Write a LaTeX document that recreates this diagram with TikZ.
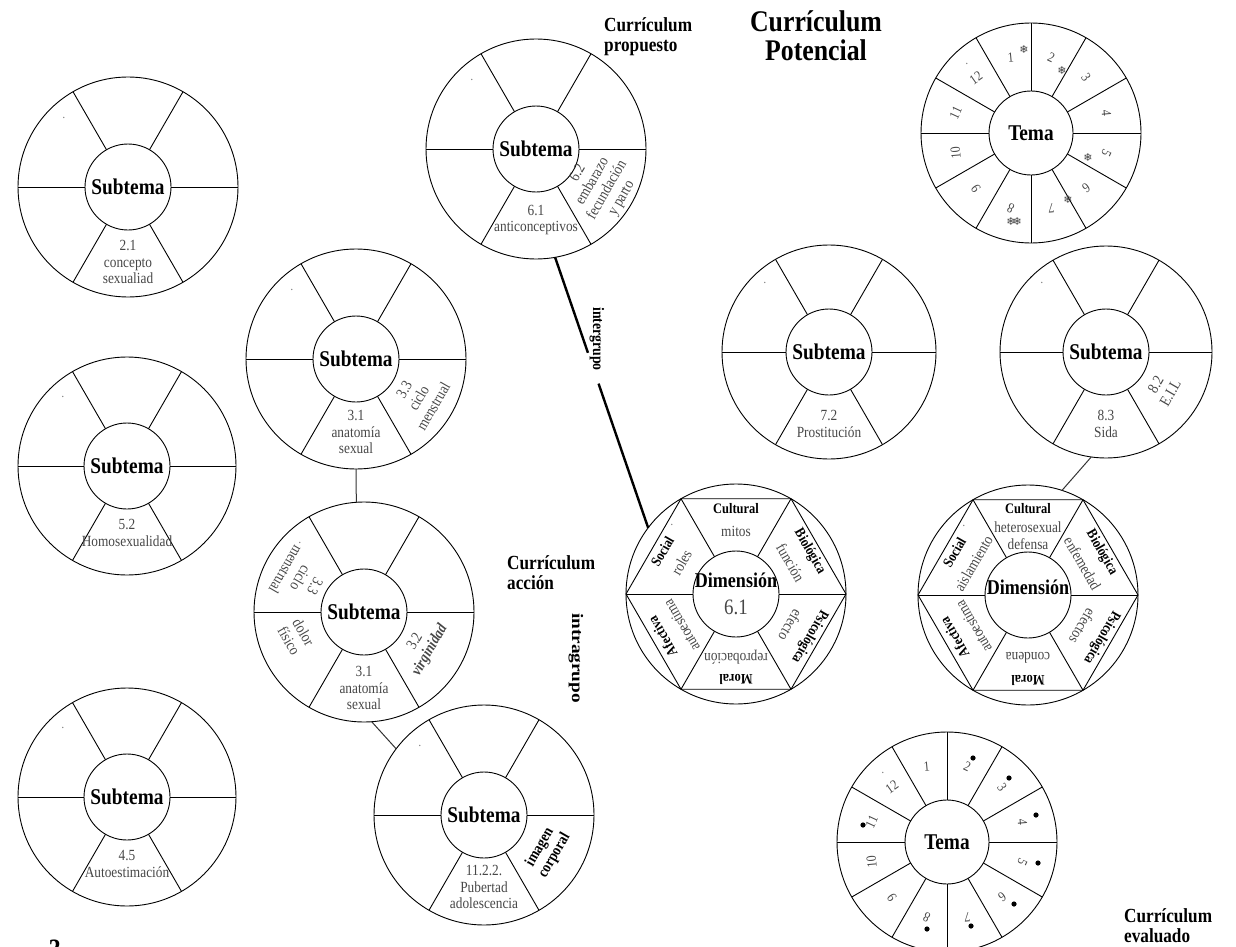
\documentclass[tikz,border=0pt]{standalone}
\usepackage{fontspec}
\setmainfont[FakeStretch=0.86]{Liberation Serif}
\newfontfamily\symfont{DejaVu Sans}
\usetikzlibrary{calc}
\tikzset{
  rim/.style={draw, circle, line width=0.9pt, inner sep=0pt, outer sep=0pt},
  hub/.style={draw, circle, line width=0.9pt, inner sep=0pt, outer sep=0pt, minimum size=86pt, font=\bfseries\fontsize{22.5}{24}\selectfont},
  spoke/.style={line width=0.9pt},
  lbl/.style={font=\fontsize{15.5}{16.8}\selectfont, text=black!72, align=center, inner sep=0pt},
  blbl/.style={font=\bfseries\fontsize{15.5}{16.8}\selectfont, text=black, align=center, inner sep=0pt},
  hexb/.style={font=\bfseries\fontsize{14.5}{16}\selectfont, inner sep=0pt},
  num/.style={font=\fontsize{14}{15}\selectfont, text=black!72, inner sep=0pt},
  curr/.style={font=\bfseries\fontsize{20}{20}\selectfont, align=left, inner sep=0pt},
  grp/.style={font=\bfseries\fontsize{16}{16}\selectfont, inner sep=0pt},
  speck/.style={font=\fontsize{12}{12}\selectfont, inner sep=0pt, text=black!60},
  snow/.style={font=\symfont\fontsize{11}{11}\selectfont, inner sep=0pt, text=black!75},
  link/.style={line width=1pt, draw=black!80},
  biglink/.style={line width=2.4pt},
}
\newcommand\subwheel[4]{%
  \coordinate (#1c) at (#2,-#3);
  \node[rim, minimum size=#4pt] (#1) at (#1c) {};
  \node[hub] (#1h) at (#1c) {Subtema};
  \foreach \ang in {0,60,...,300} {\draw[spoke] (#1h.\ang) -- (#1.\ang);}
  \node[speck] at ($(#1c)+(-64,69)$) {.};
}
\newcommand\hexwheel[3]{%
  \coordinate (#1c) at (#2,-#3);
  \node[rim, minimum size=220pt] (#1) at (#1c) {};
  \node[hub] (#1h) at (#1c) {};
  \draw[spoke] (#1.0) -- (#1.60) -- (#1.120) -- (#1.180) -- (#1.240) -- (#1.300) -- cycle;
  \foreach \ang in {0,60,...,300} {\draw[spoke] (#1h.\ang) -- (#1.\ang);}
  \node[speck] at ($(#1c)+(-64,69)$) {.};
}
\newcommand\hexlab[5]{%
  \node[hexb, rotate=#5] at ($(#1)+(#2:85)$) {#3};
  \node[lbl, rotate=#5] at ($(#1)+(#2:63)$) {#4};
}
\newcommand\temawheel[3]{%
  \coordinate (#1c) at (#2,-#3);
  \node[rim, minimum size=220pt] (#1) at (#1c) {};
  \node[hub, minimum size=84pt] (#1h) at (#1c) {Tema};
  \foreach \ang in {0,30,...,330} {\draw[spoke] (#1h.\ang) -- (#1.\ang);}
  \foreach \k in {1,...,12} {
    \pgfmathsetmacro\tht{105-30*(\k-1)}
    \pgfmathsetmacro\rtt{\tht-100}
    \node[num, rotate=\rtt] at ($(#1c)+(\tht:78)$) {\k};
  }
  \node[speck] at ($(#1c)+(-64,69)$) {.};
}
\begin{document}
\begin{tikzpicture}[x=1pt,y=1pt]
\useasboundingbox (0,0) rectangle (1236,-947);

% ---- Subtema wheels
\subwheel{W1}{128}{187}{220}
\node[lbl] at ($(W1c)+(270:75)$) {2.1\\concepto\\sexualiad};

\subwheel{W2}{536}{149}{220}
\node[lbl] at ($(W2c)+(270:71)$) {6.1\\anticonceptivos};
\node[lbl, rotate=60] at ($(W2c)+(-30:74)$) {6.2\\embarazo\\fecundación\\y parto};

\subwheel{W3}{356}{359}{220}
\node[lbl] at ($(W3c)+(270:73)$) {3.1\\anatomía\\sexual};
\node[lbl, rotate=60] at ($(W3c)+(-32:74)$) {3.3\\ciclo\\menstrual};

\subwheel{W4}{364}{612}{220}
\node[lbl] at ($(W4c)+(270:76)$) {3.1\\anatomía\\sexual};
\node[lbl, rotate=60] at ($(W4c)+(-30:68)$) {3.2\\\textbf{\textit{virginidad}}};
\node[lbl, rotate=-120] at ($(W4c)+(152:72)$) {3.3\\ciclo\\menstrual};
\node[lbl, rotate=-60] at ($(W4c)+(200:72)$) {dolor\\físico};

\subwheel{W5}{484}{815}{220}
\node[lbl] at ($(W5c)+(270:72)$) {11.2.2.\\Pubertad\\adolescencia};
\node[blbl, rotate=60] at ($(W5c)+(-30:73)$) {imagen\\corporal};

\subwheel{W6}{127}{466}{218}
\node[lbl] at ($(W6c)+(270:67)$) {5.2\\Homosexualidad};

\subwheel{W7}{127}{797}{218}
\node[lbl] at ($(W7c)+(270:67)$) {4.5\\Autoestimación};

\subwheel{W8}{829}{352}{214}
\node[lbl] at ($(W8c)+(270:72)$) {7.2\\Prostitución};

\subwheel{W9}{1106}{352}{212}
\node[lbl] at ($(W9c)+(270:72)$) {8.3\\Sida};
\node[lbl, rotate=60] at ($(W9c)+(-33:68)$) {8.2\\E.I.L};

% ---- Dimension hexagons
\hexwheel{H1}{736}{594}
\node[font=\bfseries\fontsize{21}{22}\selectfont, inner sep=0pt] at ($(H1c)+(0,14)$) {Dimensión};
\node[font=\fontsize{22}{22}\selectfont, text=black!72, inner sep=0pt] at ($(H1c)+(0,-13)$) {6.1};
\hexlab{H1c}{90}{Cultural}{mitos}{0}
\hexlab{H1c}{30}{Biológica}{función}{-60}
\hexlab{H1c}{-30}{Psicológica}{efecto}{-120}
\hexlab{H1c}{-90}{Moral}{reprobación}{180}
\hexlab{H1c}{-150}{Afectiva}{autoestima}{120}
\hexlab{H1c}{150}{Social}{roles}{60}

\hexwheel{H2}{1028}{595}
\node[font=\bfseries\fontsize{21}{22}\selectfont, inner sep=0pt] at ($(H2c)+(0,8)$) {Dimensión};
\node[hexb] at ($(H2c)+(90:86)$) {Cultural};
\node[lbl] at ($(H2c)+(90:59)$) {heterosexual\\defensa};
\hexlab{H2c}{30}{Biológica}{enfemedad}{-60}
\hexlab{H2c}{-30}{Psicológica}{efectos}{-120}
\hexlab{H2c}{-90}{Moral}{condena}{180}
\hexlab{H2c}{-150}{Afectiva}{autoestima}{120}
\hexlab{H2c}{150}{Social}{aislamiento}{60}

% ---- Tema wheels
\temawheel{T1}{1031}{133}
\node[snow] at (1024,-49) {❄};
\node[snow] at (1062,-70) {❄};
\node[snow] at (1088,-157) {❄};
\node[snow] at (1068,-199) {❄};
\node[snow, font=\symfont\bfseries\fontsize{11}{11}\selectfont] at (1014,-221) {❄\kern-3pt❄};

\temawheel{B1}{947}{842}
\foreach \p in {(973,-758),(1009,-778),(1036,-815),(1038,-863),(1014,-904),(971,-926),(927,-929),(863,-825)}
  {\fill \p circle (2.6);}

% ---- connectors
\draw[link] (W3.south) -- (W4.94);
\draw[link] (W4.-86) -- (W5.143);
\draw[biglink] (W2.-80) -- ($(W2.-80)!0.353!(H1.143)$);
\draw[biglink] ($(W2.-80)!0.467!(H1.143)$) -- (H1.143);
\draw[link] (W9.-98) -- (H2.72);

% ---- labels
\node[grp, rotate=-90] (ig) at (597,-339) {intergrupo};
\node[grp, rotate=-90] (ia) at (576,-658) {\scalebox{1.4}[1]{intragrupo}};
\node[curr, anchor=west] at (604,-37) {Currículum\\propuesto};
\node[font=\bfseries\fontsize{30}{29}\selectfont, align=center, inner sep=0pt] at (816,-36) {Currículum\\Potencial};
\node[curr, anchor=west] at (507,-573) {Currículum\\acción};
\node[curr, anchor=west] at (1124,-926) {Currículum\\evaluado};
\node[font=\bfseries\fontsize{28}{28}\selectfont, inner sep=0pt, anchor=north] at (55,-940) {3};
\end{tikzpicture}
\end{document}
